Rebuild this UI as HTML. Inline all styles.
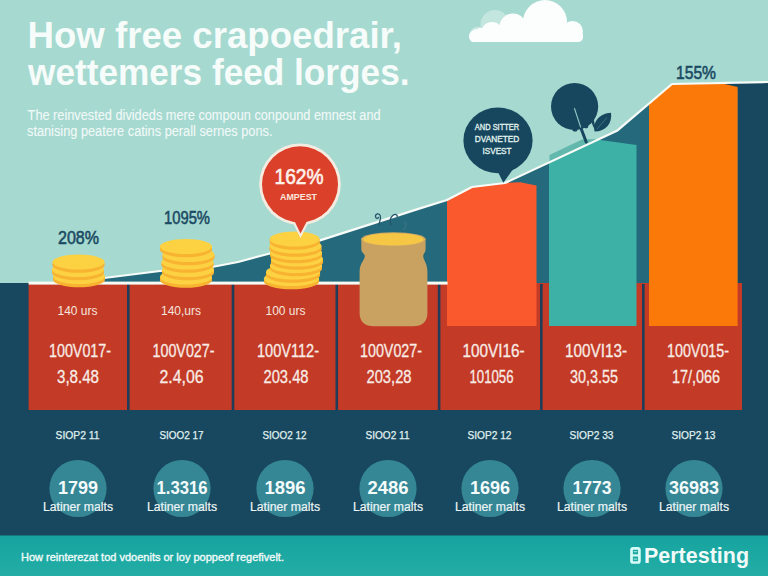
<!DOCTYPE html>
<html lang="en">
<head>
<meta charset="utf-8">
<title>How free crapoedrair, wettemers feed lorges.</title>
<style>
  html, body { margin: 0; padding: 0; background: #a6d9d0; }
  body { width: 768px; height: 576px; overflow: hidden; }
  svg { display: block; }
  text { font-family: "Liberation Sans", sans-serif; }
  .title { font-size: 36px; font-weight: bold; fill: #f6fcfa; }
  .sub { font-size: 14px; fill: #f2faf8; stroke: #f2faf8; stroke-width: 0.1px; }
  .pct { font-size: 17.5px; fill: #1b4a63; stroke: #1b4a63; stroke-width: 0.55px; }
  .urs { font-size: 12px; fill: #f5e6de; }
  .big { font-size: 18px; fill: #f8ece5; stroke: #f8ece5; stroke-width: 0.3px; }
  .sio { font-size: 11px; fill: #e0f0f0; stroke: #e0f0f0; stroke-width: 0.25px; }
  .num { font-size: 18px; font-weight: bold; fill: #f4fbfb; }
  .lat { font-size: 12.5px; fill: #ecf6f6; stroke: #ecf6f6; stroke-width: 0.2px; }
  .bub { font-size: 9.2px; fill: #e0f2ed; stroke: #e0f2ed; stroke-width: 0.35px; }
  .foot { font-size: 11px; fill: #f0fbf9; stroke: #f0fbf9; stroke-width: 0.35px; }
  .logo { font-size: 21.5px; font-weight: bold; fill: #f0fbf9; }
</style>
</head>
<body>
<svg width="768" height="576" viewBox="0 0 768 576">
  <defs>
    <linearGradient id="footg" x1="0" y1="0" x2="0" y2="1">
      <stop offset="0" stop-color="#16a39f"/>
      <stop offset="1" stop-color="#23ada6"/>
    </linearGradient>
    <g id="coin">
      <ellipse cx="0" cy="3.2" rx="26" ry="7.6" fill="#f8b431"/>
      <rect x="-26" y="0" width="52" height="3.2" fill="#f8b431"/>
      <ellipse cx="0" cy="0" rx="26" ry="7.6" fill="#fcd243"/>
    </g>
  </defs>

  <!-- sky -->
  <rect x="0" y="0" width="768" height="576" fill="#a6d9d0"/>

  <!-- mid-teal area under growth line -->
  <polygon fill="#256a7c" points="104,278 160,271 212,267 238,262 264,255 320,240.4 420,208.4 447,200 472,187 505,183 617.5,130.4 672,84 768,82 768,330 104,330"/>

  <!-- navy lower block -->
  <rect x="0" y="283" width="768" height="254" fill="#17485f"/>
  <!-- navy far right column -->
  <rect x="738" y="82" width="30" height="260" fill="#17485f"/>

  <!-- red band -->
  <rect x="28.6" y="283" width="713.4" height="127" fill="#c33a27"/>

  <!-- bars -->
  <polygon fill="#f9592d" points="447,201 472,187 505,183 520,182.3 536.5,185.4 536.5,326 447,326"/>
  <polygon fill="#62b8ad" points="549.5,155 582,139.5 600,139 549.5,164"/>
  <polygon fill="#3db1a5" points="549,163 598.7,139.8 636.5,145 636.5,326 549,326"/>
  <polygon fill="#17485f" points="716,82 740,82 740,90 716,90"/>
  <polygon fill="#fb7909" points="649,104 672,84 718,82.6 737.6,87 737.6,326 649,326"/>

  <!-- dividers -->
  <g fill="#1f3d58">
    <rect x="127" y="284" width="2.6" height="126"/>
    <rect x="231.7" y="284" width="2.6" height="126"/>
    <rect x="335.5" y="284" width="2.6" height="126"/>
    <rect x="437.8" y="284" width="2.6" height="126"/>
    <rect x="540" y="284" width="2.6" height="126"/>
    <rect x="642" y="284" width="2.6" height="126"/>
  </g>

  <!-- white baseline + growth line -->
  <rect x="28.6" y="281.6" width="419" height="3" fill="#f6fbf6"/>
  <polyline fill="none" stroke="#f8fcf8" stroke-width="2.2" stroke-linejoin="round" points="104,278 160,271 212,267 238,262 264,255 320,240.4 420,208.4 447,200 472,187 505,183 617.5,130.4 672,84 768,82"/>

  <!-- cloud -->
  <clipPath id="cloudclip"><rect x="460" y="0" width="130" height="42"/></clipPath>
  <g clip-path="url(#cloudclip)">
    <g fill="#c3e6df">
      <circle cx="495" cy="24.500" r="14.500"/>
      <circle cx="478" cy="35" r="8.500"/>
    </g>
    <g fill="#fcfefd">
      <circle cx="545" cy="22" r="22"/>
      <circle cx="513" cy="27" r="13.500"/>
      <circle cx="492" cy="33" r="11"/>
      <circle cx="477" cy="36.500" r="7.500"/>
      <circle cx="572.500" cy="31.500" r="10.500"/>
      <circle cx="577.500" cy="36.500" r="5.500"/>
      <rect x="469" y="31" width="114" height="11" rx="5.500"/>
      <rect x="478" y="28" width="96" height="14"/>
    </g>
  </g>

  <!-- coin stack 1 -->
  <use href="#coin" x="79" y="276.5"/>
  <use href="#coin" x="78" y="269.5"/>
  <use href="#coin" x="78.5" y="262"/>

  <!-- coin stack 2 -->
  <use href="#coin" x="186" y="277"/>
  <use href="#coin" x="188" y="269.5"/>
  <use href="#coin" x="187.5" y="262"/>
  <use href="#coin" x="188.5" y="254.5"/>
  <use href="#coin" x="186" y="246.5"/>

  <!-- coin stack 3 -->
  <g transform="translate(291.500,278.500) scale(1.060,1)"><use href="#coin"/></g>
  <g transform="translate(293,272) scale(1.040,1)"><use href="#coin"/></g>
  <use href="#coin" x="296" y="265.500"/>
  <use href="#coin" x="297" y="259"/>
  <use href="#coin" x="296" y="252.500"/>
  <use href="#coin" x="295.500" y="246"/>
  <g transform="translate(294.700,239) scale(0.960,1)"><use href="#coin"/></g>

  <!-- jar -->
  <g>
    <g fill="none" stroke="#28546a" stroke-width="1.300" stroke-linecap="round">
      <path d="M379,224.500 C379.300,221.500 381.500,218.500 380.200,215.500 C379,212.800 375.200,213.600 375.500,216.600 C375.700,218.600 377.800,218.800 378.400,217.400"/>
      <path d="M390.800,225 C389.800,221.500 390.200,217.500 393,215.200 C395.200,213.600 397.600,214.600 397.200,216.600"/>
      <path d="M403.200,229.500 C406,227.500 407.200,224.500 405,221.800" stroke="#3f7686" stroke-width="1.100"/>
    </g>
    <path fill="#c9a160" d="M361.300,238.500 H425.600 V249 C425.600,253 423.200,253.500 423.200,256 C423.200,260 427.400,263 427.400,272 V313 C427.400,322 422,326.200 413,326.200 H374 C365,326.200 359.600,322 359.600,313 V272 C359.600,263 364.800,260 364.800,256 C364.800,253.500 361.300,253 361.300,249 Z"/>
    <ellipse cx="393.400" cy="239.200" rx="32.100" ry="7" fill="#d2ab63"/>
    <ellipse cx="393.400" cy="239.400" rx="30.300" ry="6.100" fill="#f5c744"/>
  </g>

  <!-- red bubble -->
  <g>
    <path fill="#f5ece1" d="M290.500,218 L300.500,238 L311,218 z"/>
    <circle cx="300" cy="184.300" r="40.800" fill="#f5ece1"/>
    <circle cx="300" cy="184.300" r="38" fill="#db412a"/>
    <path fill="#db412a" d="M293.500,219 L300.500,233.500 L308,219 z"/>
  </g>

  <!-- dark bubble -->
  <g fill="#17475f">
    <ellipse cx="498" cy="140.400" rx="34.600" ry="32.800"/>
    <path d="M497,170 L503.300,182.800 L516,165 z"/>
  </g>

  <!-- tree -->
  <g>
    <circle cx="574.600" cy="106.500" r="23.600" fill="#17475f"/>
    <circle cx="575" cy="129" r="2.600" fill="#17475f"/>
    <circle cx="586" cy="126" r="2.400" fill="#17475f"/>
    <path fill="none" stroke="#17475f" stroke-width="3" stroke-linecap="round" d="M579,123 L586.200,142"/>
    <path fill="none" stroke="#8fc9c3" stroke-width="1.100" stroke-linecap="round" d="M574.500,108.500 L580.600,127"/>
    <path fill="none" stroke="#17475f" stroke-width="2.400" stroke-linecap="round" d="M592.800,120.500 C593,124 594,126.500 596,128.500"/>
    <path fill="#17475f" d="M594.500,131.600 C592.500,121 600,113.500 611,112.800 C612.500,123 606,131.500 594.500,131.600 z"/>
    <path fill="none" stroke="#3f7f8c" stroke-width="0.800" d="M597,129 L607,117.500"/>
  </g>

  <!-- bottom circles -->
  <g fill="#368796">
    <circle cx="78" cy="488.500" r="28.600"/>
    <circle cx="182" cy="488.500" r="28.600"/>
    <circle cx="285" cy="488.500" r="28.600"/>
    <circle cx="388" cy="488.500" r="28.600"/>
    <circle cx="490" cy="488.500" r="28.600"/>
    <circle cx="592" cy="488.500" r="28.600"/>
    <circle cx="694" cy="488.500" r="28.600"/>
  </g>

  <!-- footer -->
  <rect x="0" y="535.5" width="768" height="40.5" fill="url(#footg)"/>
  <text class="foot" x="21" y="561" textLength="263" lengthAdjust="spacingAndGlyphs">How reinterezat tod vdoenits or loy poppeof regefivelt.</text>
  <!-- logo -->
  <g fill="none" stroke="#d6fbf7" stroke-width="2.700">
    <rect x="631.500" y="548.300" width="7.900" height="14.200" rx="1.600"/>
    <path d="M631.500,555.400 h7.900" stroke-width="2.200"/>
    <path d="M633.600,551.600 h3.600 M633.600,559.200 h3.600" stroke-width="1.300" stroke="#8fded9"/>
  </g>
  <text class="logo" x="644" y="562.7" textLength="105" lengthAdjust="spacingAndGlyphs">Pertesting</text>
  <!-- text -->
  <text class="title" x="27.5" y="47.8" textLength="374.5" lengthAdjust="spacingAndGlyphs">How free crapoedrair,</text>
  <text class="title" x="28" y="85.3" textLength="381.5" lengthAdjust="spacingAndGlyphs">wettemers feed lorges.</text>
  <text class="sub" x="27.6" y="119.8" textLength="353" lengthAdjust="spacingAndGlyphs">The reinvested divideds mere compoun conpound emnest and</text>
  <text class="sub" x="27" y="136.2" textLength="245.5" lengthAdjust="spacingAndGlyphs">stanising peatere catins perall sernes pons.</text>
  <text class="pct" x="78.5" y="244" text-anchor="middle" textLength="41" lengthAdjust="spacingAndGlyphs">208%</text>
  <text class="pct" x="187" y="224" text-anchor="middle" textLength="46" lengthAdjust="spacingAndGlyphs">1095%</text>
  <text class="pct" x="696" y="79" text-anchor="middle" textLength="40" lengthAdjust="spacingAndGlyphs">155%</text>
  <text x="299" y="183.900" text-anchor="middle" textLength="49" lengthAdjust="spacingAndGlyphs" style="font-size:21.6px;fill:#fcf3ec;stroke:#fcf3ec;stroke-width:0.6px">162%</text>
  <text x="298.5" y="200" text-anchor="middle" textLength="37" lengthAdjust="spacingAndGlyphs" style="font-size:9.8px;font-weight:bold;fill:#f9e6dd">AMPEST</text>
  <text class="bub" x="497" y="129.6" text-anchor="middle" textLength="44.5" lengthAdjust="spacingAndGlyphs">AND SITTER</text>
  <text class="bub" x="497" y="141.8" text-anchor="middle" textLength="44.5" lengthAdjust="spacingAndGlyphs">DVANETED</text>
  <text class="bub" x="497" y="153.5" text-anchor="middle" textLength="29" lengthAdjust="spacingAndGlyphs">ISVEST</text>
  <text class="urs" x="77.5" y="315" text-anchor="middle" textLength="40" lengthAdjust="spacingAndGlyphs">140 urs</text>
  <text class="big" x="80" y="357" text-anchor="middle" textLength="62" lengthAdjust="spacingAndGlyphs">100V017-</text>
  <text class="big" x="78" y="383" text-anchor="middle" textLength="42" lengthAdjust="spacingAndGlyphs">3,8.48</text>
  <text class="sio" x="77.5" y="439.3" text-anchor="middle" textLength="44" lengthAdjust="spacingAndGlyphs">SIOP2 11</text>
  <text class="num" x="78" y="494.3" text-anchor="middle" textLength="40" lengthAdjust="spacingAndGlyphs">1799</text>
  <text class="lat" x="78" y="511" text-anchor="middle" textLength="70" lengthAdjust="spacingAndGlyphs">Latiner malts</text>
  <text class="urs" x="181.0" y="315" text-anchor="middle" textLength="40" lengthAdjust="spacingAndGlyphs">140,urs</text>
  <text class="big" x="183.5" y="357" text-anchor="middle" textLength="62" lengthAdjust="spacingAndGlyphs">100V027-</text>
  <text class="big" x="181.5" y="383" text-anchor="middle" textLength="44" lengthAdjust="spacingAndGlyphs">2.4,06</text>
  <text class="sio" x="181.5" y="439.3" text-anchor="middle" textLength="44" lengthAdjust="spacingAndGlyphs">SIOO2 17</text>
  <text class="num" x="182" y="494.3" text-anchor="middle" textLength="51" lengthAdjust="spacingAndGlyphs">1.3316</text>
  <text class="lat" x="182" y="511" text-anchor="middle" textLength="70" lengthAdjust="spacingAndGlyphs">Latiner malts</text>
  <text class="urs" x="285.5" y="315" text-anchor="middle" textLength="40" lengthAdjust="spacingAndGlyphs">100 urs</text>
  <text class="big" x="288" y="357" text-anchor="middle" textLength="62" lengthAdjust="spacingAndGlyphs">100V112-</text>
  <text class="big" x="286" y="383" text-anchor="middle" textLength="45" lengthAdjust="spacingAndGlyphs">203.48</text>
  <text class="sio" x="284.5" y="439.3" text-anchor="middle" textLength="44" lengthAdjust="spacingAndGlyphs">SIOO2 12</text>
  <text class="num" x="285" y="494.3" text-anchor="middle" textLength="41" lengthAdjust="spacingAndGlyphs">1896</text>
  <text class="lat" x="285" y="511" text-anchor="middle" textLength="70" lengthAdjust="spacingAndGlyphs">Latiner malts</text>
  <text class="big" x="391" y="357" text-anchor="middle" textLength="62" lengthAdjust="spacingAndGlyphs">100V027-</text>
  <text class="big" x="389" y="383" text-anchor="middle" textLength="45" lengthAdjust="spacingAndGlyphs">203,28</text>
  <text class="sio" x="387.5" y="439.3" text-anchor="middle" textLength="44" lengthAdjust="spacingAndGlyphs">SIOO2 11</text>
  <text class="num" x="388" y="494.3" text-anchor="middle" textLength="41" lengthAdjust="spacingAndGlyphs">2486</text>
  <text class="lat" x="388" y="511" text-anchor="middle" textLength="70" lengthAdjust="spacingAndGlyphs">Latiner malts</text>
  <text class="big" x="493.5" y="357" text-anchor="middle" textLength="62" lengthAdjust="spacingAndGlyphs">100VI16-</text>
  <text class="big" x="491.5" y="383" text-anchor="middle" textLength="44" lengthAdjust="spacingAndGlyphs">101056</text>
  <text class="sio" x="489.5" y="439.3" text-anchor="middle" textLength="44" lengthAdjust="spacingAndGlyphs">SIOP2 12</text>
  <text class="num" x="490" y="494.3" text-anchor="middle" textLength="40" lengthAdjust="spacingAndGlyphs">1696</text>
  <text class="lat" x="490" y="511" text-anchor="middle" textLength="70" lengthAdjust="spacingAndGlyphs">Latiner malts</text>
  <text class="big" x="596" y="357" text-anchor="middle" textLength="62" lengthAdjust="spacingAndGlyphs">100VI13-</text>
  <text class="big" x="594" y="383" text-anchor="middle" textLength="48" lengthAdjust="spacingAndGlyphs">30,3.55</text>
  <text class="sio" x="591.5" y="439.3" text-anchor="middle" textLength="44" lengthAdjust="spacingAndGlyphs">SIOP2 33</text>
  <text class="num" x="592" y="494.3" text-anchor="middle" textLength="39" lengthAdjust="spacingAndGlyphs">1773</text>
  <text class="lat" x="592" y="511" text-anchor="middle" textLength="70" lengthAdjust="spacingAndGlyphs">Latiner malts</text>
  <text class="big" x="698" y="357" text-anchor="middle" textLength="62" lengthAdjust="spacingAndGlyphs">100V015-</text>
  <text class="big" x="696" y="383" text-anchor="middle" textLength="48" lengthAdjust="spacingAndGlyphs">17/,066</text>
  <text class="sio" x="693.5" y="439.3" text-anchor="middle" textLength="44" lengthAdjust="spacingAndGlyphs">SIOP2 13</text>
  <text class="num" x="694" y="494.3" text-anchor="middle" textLength="50" lengthAdjust="spacingAndGlyphs">36983</text>
  <text class="lat" x="694" y="511" text-anchor="middle" textLength="70" lengthAdjust="spacingAndGlyphs">Latiner malts</text>
</svg>
</body>
</html>
